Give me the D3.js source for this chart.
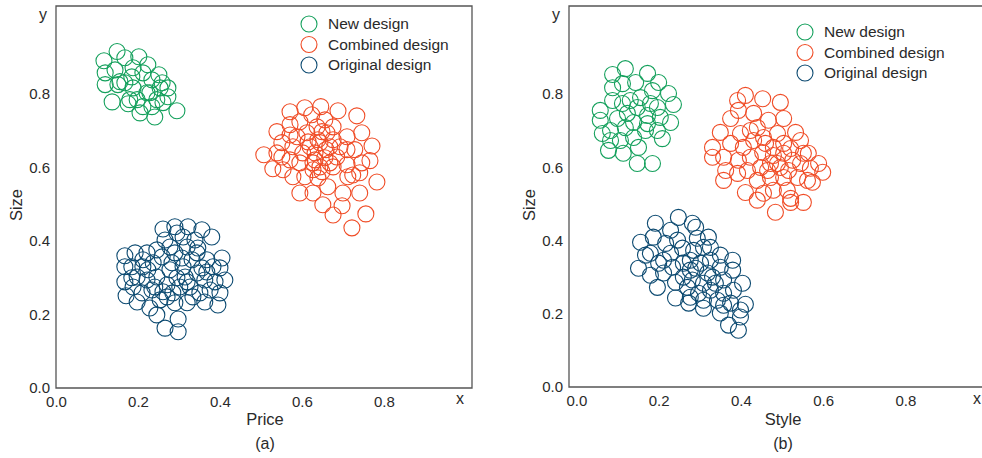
<!DOCTYPE html>
<meta charset="utf-8">
<script src="https://d3js.org/d3.v7.min.js"></script>
<style>
  body { margin: 0; background: #fff; }
  text { font-family: "Liberation Sans", Arial, sans-serif; fill: #2a2a2a; }
</style>
<div id="chart"></div>
<script>

// ---- data: panel (a) Price vs Size ----
var newA = [[0.117,0.891],[0.149,0.916],[0.168,0.899],[0.202,0.902],[0.224,0.880],[0.251,0.853],[0.273,0.817],[0.295,0.755],
  [0.241,0.738],[0.205,0.749],[0.137,0.779],[0.120,0.826],[0.120,0.858],[0.144,0.866],[0.151,0.826],[0.180,0.785],
  [0.188,0.817],[0.222,0.804],[0.246,0.785],[0.254,0.817],[0.273,0.793],[0.185,0.847],[0.212,0.858],[0.234,0.839],
  [0.188,0.872],[0.168,0.831],[0.212,0.766],[0.198,0.785],[0.261,0.777],[0.234,0.766],[0.156,0.834],[0.229,0.804],
  [0.259,0.831],[0.176,0.774]];
var combinedA = [[0.507,0.635],[0.529,0.597],[0.539,0.698],[0.571,0.752],[0.607,0.763],[0.646,0.766],[0.688,0.755],[0.734,0.741],
  [0.746,0.695],[0.771,0.659],[0.766,0.619],[0.783,0.561],[0.741,0.531],[0.724,0.580],[0.700,0.531],[0.698,0.496],
  [0.676,0.471],[0.651,0.499],[0.627,0.531],[0.595,0.531],[0.722,0.436],[0.756,0.474],[0.663,0.548],[0.551,0.629],
  [0.554,0.594],[0.578,0.575],[0.607,0.575],[0.627,0.594],[0.649,0.589],[0.551,0.668],[0.578,0.657],[0.571,0.717],
  [0.595,0.725],[0.624,0.744],[0.656,0.730],[0.676,0.711],[0.710,0.684],[0.729,0.649],[0.710,0.649],[0.685,0.629],
  [0.668,0.657],[0.639,0.676],[0.612,0.695],[0.588,0.684],[0.602,0.640],[0.632,0.640],[0.656,0.627],[0.644,0.602],
  [0.676,0.602],[0.710,0.608],[0.741,0.586],[0.595,0.613],[0.571,0.621],[0.637,0.711],[0.620,0.657],[0.627,0.613],
  [0.676,0.676],[0.693,0.657],[0.661,0.695],[0.571,0.689],[0.639,0.572],[0.539,0.640],[0.712,0.575],[0.746,0.613],
  [0.644,0.668],[0.659,0.649],[0.632,0.621],[0.668,0.613],[0.615,0.670],[0.649,0.698]];
var originalA = [[0.168,0.360],[0.193,0.368],[0.222,0.368],[0.168,0.330],[0.168,0.289],[0.171,0.251],[0.198,0.234],[0.229,0.218],
  [0.246,0.199],[0.266,0.163],[0.298,0.153],[0.298,0.188],[0.320,0.232],[0.363,0.234],[0.395,0.226],[0.400,0.259],
  [0.412,0.294],[0.400,0.327],[0.405,0.354],[0.380,0.411],[0.356,0.431],[0.322,0.439],[0.290,0.439],[0.261,0.433],
  [0.266,0.403],[0.259,0.357],[0.237,0.341],[0.212,0.330],[0.198,0.302],[0.222,0.294],[0.241,0.275],[0.271,0.281],
  [0.285,0.259],[0.271,0.248],[0.295,0.300],[0.310,0.330],[0.332,0.349],[0.346,0.381],[0.320,0.384],[0.290,0.368],
  [0.310,0.411],[0.344,0.313],[0.363,0.294],[0.376,0.267],[0.351,0.259],[0.327,0.275],[0.315,0.302],[0.368,0.349],
  [0.383,0.330],[0.188,0.275],[0.210,0.259],[0.224,0.322],[0.246,0.302],[0.278,0.322],[0.254,0.240],[0.290,0.232],
  [0.334,0.248],[0.356,0.327],[0.283,0.341],[0.307,0.354],[0.344,0.368],[0.278,0.384],[0.246,0.376],[0.212,0.349],
  [0.185,0.330],[0.185,0.300],[0.234,0.267],[0.261,0.262],[0.302,0.275],[0.320,0.289],[0.388,0.289],[0.368,0.316],
  [0.339,0.403],[0.295,0.422]];

// ---- data: panel (b) Style vs Size ----
var newB = [[0.119,0.869],[0.088,0.853],[0.173,0.856],[0.200,0.831],[0.224,0.801],[0.236,0.771],[0.229,0.722],[0.209,0.678],
  [0.185,0.610],[0.148,0.610],[0.114,0.638],[0.078,0.646],[0.063,0.692],[0.058,0.728],[0.058,0.755],[0.088,0.782],
  [0.088,0.817],[0.112,0.828],[0.144,0.831],[0.185,0.809],[0.197,0.763],[0.204,0.736],[0.168,0.700],[0.139,0.681],
  [0.107,0.673],[0.083,0.700],[0.100,0.733],[0.124,0.747],[0.148,0.763],[0.173,0.741],[0.131,0.782],[0.112,0.774],
  [0.156,0.790],[0.173,0.719],[0.139,0.722],[0.197,0.700],[0.083,0.673],[0.151,0.654],[0.119,0.708],[0.180,0.774]];
var combinedB = [[0.411,0.796],[0.392,0.782],[0.453,0.787],[0.496,0.777],[0.504,0.733],[0.533,0.695],[0.545,0.673],[0.564,0.638],
  [0.589,0.610],[0.599,0.586],[0.574,0.559],[0.552,0.504],[0.521,0.504],[0.484,0.477],[0.440,0.510],[0.411,0.531],
  [0.358,0.564],[0.331,0.654],[0.350,0.695],[0.375,0.733],[0.394,0.755],[0.431,0.747],[0.467,0.728],[0.489,0.692],
  [0.455,0.681],[0.423,0.700],[0.399,0.692],[0.375,0.665],[0.358,0.627],[0.394,0.619],[0.423,0.627],[0.453,0.640],
  [0.479,0.654],[0.504,0.638],[0.526,0.619],[0.545,0.610],[0.569,0.597],[0.496,0.599],[0.472,0.610],[0.448,0.599],
  [0.416,0.591],[0.392,0.583],[0.440,0.564],[0.472,0.572],[0.504,0.572],[0.538,0.572],[0.562,0.564],[0.513,0.537],
  [0.479,0.537],[0.455,0.529],[0.521,0.515],[0.489,0.610],[0.504,0.665],[0.440,0.708],[0.406,0.654],[0.331,0.627],
  [0.363,0.591],[0.479,0.632],[0.460,0.665],[0.521,0.651],[0.431,0.673],[0.465,0.591],[0.516,0.591],[0.552,0.638]];
var originalB = [[0.248,0.463],[0.192,0.447],[0.156,0.395],[0.151,0.324],[0.168,0.360],[0.180,0.305],[0.197,0.272],[0.241,0.243],
  [0.273,0.229],[0.309,0.215],[0.350,0.202],[0.370,0.169],[0.394,0.155],[0.399,0.191],[0.411,0.226],[0.404,0.283],
  [0.380,0.319],[0.380,0.346],[0.350,0.360],[0.321,0.409],[0.290,0.436],[0.282,0.447],[0.229,0.428],[0.217,0.392],
  [0.187,0.409],[0.180,0.365],[0.200,0.338],[0.229,0.365],[0.258,0.379],[0.285,0.373],[0.309,0.381],[0.326,0.346],
  [0.350,0.327],[0.358,0.292],[0.382,0.264],[0.358,0.256],[0.326,0.264],[0.297,0.256],[0.270,0.272],[0.241,0.286],
  [0.212,0.311],[0.234,0.327],[0.260,0.338],[0.290,0.324],[0.319,0.311],[0.338,0.283],[0.309,0.283],[0.282,0.292],
  [0.260,0.300],[0.277,0.346],[0.302,0.338],[0.331,0.300],[0.277,0.245],[0.309,0.237],[0.343,0.237],[0.375,0.229],
  [0.358,0.223],[0.246,0.401],[0.294,0.406],[0.212,0.346],[0.399,0.210],[0.277,0.319],[0.326,0.381]];

var ticks = [0, 0.2, 0.4, 0.6, 0.8];
var seriesNames = ["New design", "Combined design", "Original design"];
var seriesColors = ["#14a05c", "#f04c26", "#0c4a71"];

var svg = d3.select("#chart").append("svg")
  .attr("width", 982)
  .attr("height", 458);

function drawPanel(p) {
  var x = d3.scaleLinear().domain(p.xDomain).range([p.left, p.right]);
  var y = d3.scaleLinear().domain([0, 1.04]).range([p.bottom, 6]);
  var g = svg.append("g");

  // frame
  g.append("path")
    .attr("d", "M" + p.right + ",6 H" + p.left + " V" + p.bottom + " H" + p.right + (p.closed ? " Z" : ""))
    .attr("fill", "none")
    .attr("stroke", "#555")
    .attr("stroke-width", 1.3);

  // axes (labels only)
  var xAxis = g.append("g")
    .attr("transform", "translate(0," + p.bottom + ")")
    .call(d3.axisBottom(x).tickValues(ticks).tickSize(0).tickPadding(8).tickFormat(d3.format(".1f")));
  var yAxis = g.append("g")
    .attr("transform", "translate(" + p.left + ",0)")
    .call(d3.axisLeft(y).tickValues(ticks).tickSize(0).tickPadding(6).tickFormat(d3.format(".1f")));
  [xAxis, yAxis].forEach(function(a) {
    a.select(".domain").remove();
    a.selectAll("text").style("font-size", "15px").attr("fill", "#2a2a2a")
      .style("font-family", "'Liberation Sans', Arial, sans-serif");
  });

  // points
  var sets = [p.newD, p.combD, p.origD];
  sets.forEach(function(data, i) {
    g.selectAll(null)
      .data(data)
      .enter()
      .append("circle")
      .attr("cx", function(d) { return x(d[0]); })
      .attr("cy", function(d) { return y(d[1]); })
      .attr("r", 8)
      .attr("fill", "none")
      .attr("stroke", seriesColors[i])
      .attr("stroke-width", 1.1);
  });

  // axis texts
  g.append("text").attr("x", p.left - 13).attr("y", 20).attr("text-anchor", "middle")
    .style("font-size", "16px").text("y");
  g.append("text").attr("x", p.xLetter).attr("y", 404).attr("text-anchor", "middle")
    .style("font-size", "16px").text("x");
  g.append("text").attr("x", p.titleX).attr("y", 425).attr("text-anchor", "middle")
    .style("font-size", "16.5px").text(p.xTitle);
  g.append("text").attr("x", p.titleX).attr("y", 449).attr("text-anchor", "middle")
    .style("font-size", "16px").text(p.caption);
  g.append("text")
    .attr("transform", "translate(" + (p.left - 34) + ",205) rotate(-90)")
    .attr("text-anchor", "middle")
    .style("font-size", "16.5px").text("Size");

  // legend
  var leg = g.append("g").attr("transform", "translate(" + p.legX + "," + p.legY + ")");
  var items = leg.selectAll("g").data(seriesNames).enter().append("g")
    .attr("transform", function(d, i) { return "translate(0," + (i * 20.5) + ")"; });
  items.append("circle").attr("r", 8).attr("fill", "none")
    .attr("stroke", function(d, i) { return seriesColors[i]; }).attr("stroke-width", 1.1);
  items.append("text").attr("x", 19).attr("dy", "0.35em")
    .style("font-size", "15.5px").text(function(d) { return d; });
}

drawPanel({left: 56, right: 472, bottom: 388, xDomain: [0, 1.015], closed: true,
  newD: newA, combD: combinedA, origD: originalA,
  xTitle: "Price", caption: "(a)", titleX: 265, xLetter: 460, legX: 309, legY: 24});

drawPanel({left: 569, right: 995, bottom: 387, xDomain: [-0.018, 1.018], closed: false,
  newD: newB, combD: combinedB, origD: originalB,
  xTitle: "Style", caption: "(b)", titleX: 783, xLetter: 977, legX: 805, legY: 32});

</script>
